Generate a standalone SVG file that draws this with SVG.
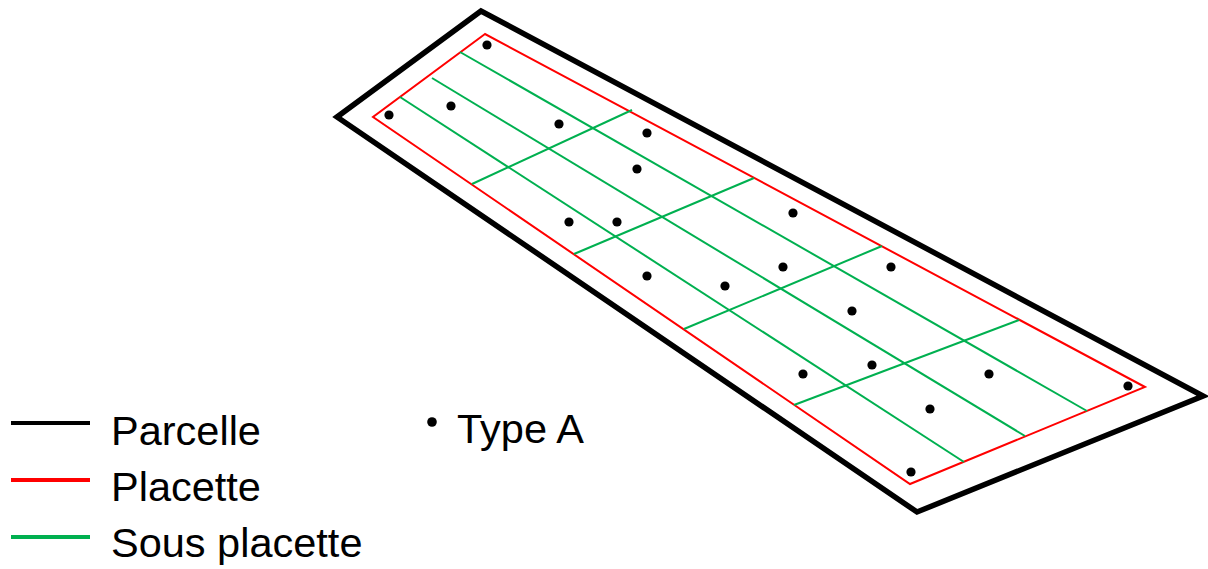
<svg xmlns="http://www.w3.org/2000/svg" width="1208" height="569" viewBox="0 0 1208 569">
<style>
.parcelle{fill:none;stroke:#000;stroke-width:5.5;stroke-linejoin:miter}
.placette{fill:none;stroke:#FF0000;stroke-width:2}
.sous{fill:none;stroke:#00B050;stroke-width:2}
.pt{fill:#000}
.lbl{font-family:"Liberation Sans",Arial,sans-serif;font-size:41.5px;fill:#000}
</style>
<rect width="1208" height="569" fill="#fff"/>
<g id="parcelle">
<polygon class="parcelle" points="481,11 337,117 917,512 1203,396"/>
</g>
<g id="placette">
<polygon class="placette" points="485,34 373,117 910,484 1145,387"/>
</g>
<g id="sous-placettes">
<line class="sous" x1="460" y1="52" x2="1087" y2="411"/>
<line class="sous" x1="432" y1="78" x2="1025" y2="436"/>
<line class="sous" x1="400" y1="97" x2="964" y2="462"/>
<line class="sous" x1="472" y1="184" x2="632" y2="110"/>
<line class="sous" x1="574" y1="254" x2="754" y2="178"/>
<line class="sous" x1="684" y1="329" x2="882" y2="246"/>
<line class="sous" x1="794" y1="405" x2="1019" y2="320"/>
</g>
<g id="points">
<circle class="pt" cx="487" cy="45" r="4.6"/>
<circle class="pt" cx="389" cy="115" r="4.6"/>
<circle class="pt" cx="451" cy="106" r="4.6"/>
<circle class="pt" cx="559" cy="124" r="4.6"/>
<circle class="pt" cx="647" cy="133" r="4.6"/>
<circle class="pt" cx="637" cy="169" r="4.6"/>
<circle class="pt" cx="793" cy="213" r="4.6"/>
<circle class="pt" cx="569" cy="222" r="4.6"/>
<circle class="pt" cx="617" cy="222" r="4.6"/>
<circle class="pt" cx="647" cy="276" r="4.6"/>
<circle class="pt" cx="725" cy="286" r="4.6"/>
<circle class="pt" cx="783" cy="267" r="4.6"/>
<circle class="pt" cx="891" cy="267" r="4.6"/>
<circle class="pt" cx="852" cy="311" r="4.6"/>
<circle class="pt" cx="872" cy="365" r="4.6"/>
<circle class="pt" cx="803" cy="374" r="4.6"/>
<circle class="pt" cx="989" cy="374" r="4.6"/>
<circle class="pt" cx="930" cy="409" r="4.6"/>
<circle class="pt" cx="1128" cy="386" r="4.6"/>
<circle class="pt" cx="911" cy="472" r="4.6"/>
</g>
<g id="legend">
<line x1="11" y1="423" x2="90" y2="423" stroke="#000" stroke-width="4"/>
<text class="lbl" x="111" y="445">Parcelle</text>
<line x1="11" y1="480" x2="90" y2="480" stroke="#FF0000" stroke-width="4"/>
<text class="lbl" x="111" y="501">Placette</text>
<line x1="11" y1="537" x2="90" y2="537" stroke="#00B050" stroke-width="4"/>
<text class="lbl" x="111" y="557">Sous placette</text>
<circle class="pt" cx="432" cy="422" r="4.8"/>
<text class="lbl" x="457" y="443">Type A</text>
</g>
</svg>
